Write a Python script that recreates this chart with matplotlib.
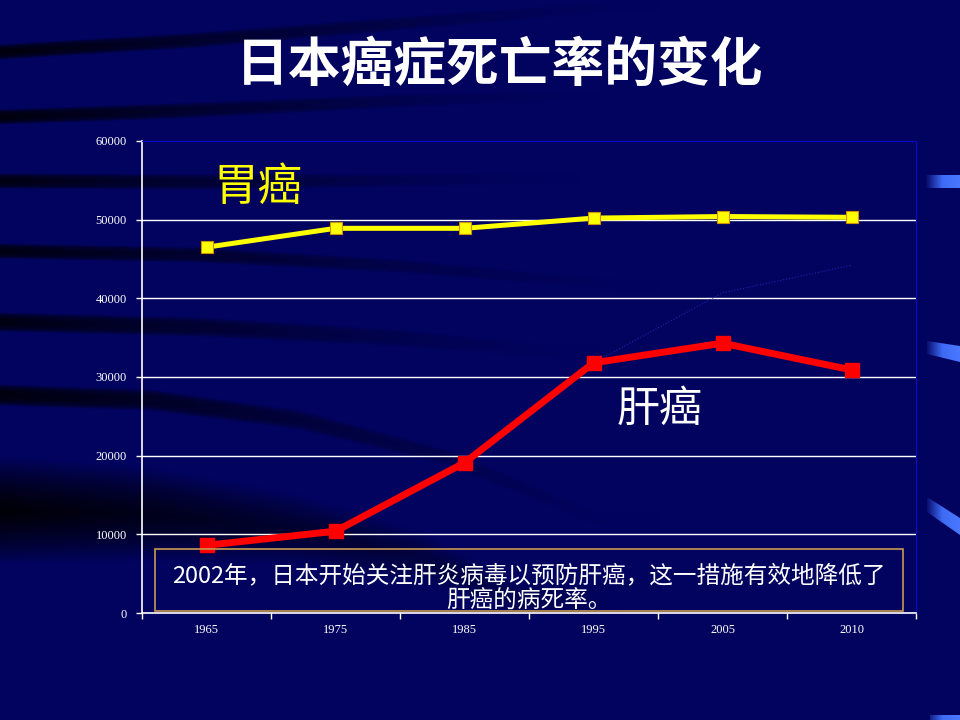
import matplotlib
matplotlib.use('Agg')
import matplotlib.pyplot as plt
import numpy as np
from matplotlib.patches import Rectangle, Polygon
from matplotlib.colors import LinearSegmentedColormap, to_rgb

plt.rcParams['font.family'] = ['Noto Sans CJK SC', 'DejaVu Sans']

# data
years = ['1965', '1975', '1985', '1995', '2005', '2010']
stomach = [46500, 48900, 48900, 50200, 50400, 50300]
liver = [8600, 10400, 19100, 31800, 34300, 30900]
liver_trend = [8600, 10400, 19100, 31800, 40700, 44200]
yticks = [0, 10000, 20000, 30000, 40000, 50000, 60000]

title = '日本癌症死亡率的变化'
note1 = '2002年，日本开始关注肝炎病毒以预防肝癌，这一措施有效地降低了'
note2 = '肝癌的病死率。'

navy = '#02035F'

fig = plt.figure(figsize=(9.6, 7.2), dpi=100)
fig.patch.set_facecolor(navy)

# background: navy slide with dark swooshes, built as an image (pixel coords, y down)
bg = fig.add_axes([0, 0, 1, 1], zorder=-10)
bg.set_xlim(0, 960)
bg.set_ylim(720, 0)
bg.axis('off')

W, H = 960, 720
xx = np.arange(W) + 0.5
yy = (np.arange(H) + 0.5)[:, None]
dark = np.zeros((H, W))


def band(xs, ys, hws, a0, end, power=1.3, soft=3.0):
	yc = np.interp(xx, xs, ys)[None, :]
	hw = np.interp(xx, xs, hws)[None, :]
	prof = np.clip(1 - (np.abs(yy - yc) / hw) ** soft, 0, 1)
	fade = a0 * np.clip(1 - xx / end, 0, 1) ** power
	return prof * fade[None, :]


bands = [
	([0, 200, 420, 620], [52, 40, 22, 6], [8, 8, 7, 6], 0.85, 660),
	([0, 200, 420, 560], [117, 110, 100, 96], [8, 8, 7, 6], 0.85, 600),
	([0, 200, 420, 560], [181, 182, 180, 178], [8, 8, 7, 6], 0.8, 580),
	([0, 200, 400, 620], [251, 255, 266, 285], [8, 8, 7, 6], 0.8, 660),
	([0, 200, 400, 560], [322, 327, 338, 352], [10, 10, 9, 7], 0.8, 600),
	([0, 150, 300, 450, 600], [395, 400, 420, 458, 520], [11, 11, 10, 8, 7], 0.85, 660),
]
for b in bands:
	dark = np.maximum(dark, band(*b))
dark = np.maximum(dark, band([0, 150, 300, 420, 520], [510, 514, 530, 556, 600],
	[55, 48, 36, 26, 16], 0.92, 620, power=0.9, soft=1.4))

base = np.array(to_rgb(navy))
img = base[None, None, :] * (1 - dark[:, :, None])
bg.imshow(img, extent=(0, W, H, 0), aspect='auto', interpolation='bilinear')

# blue accents on the right edge
accent = LinearSegmentedColormap.from_list('b', [navy, '#3D6BF5', '#4A78FF'])
for poly in [[(925, 175), (960, 175), (960, 188), (925, 188)],
	[(927, 341), (960, 346), (960, 362), (927, 354)],
	[(927, 497), (960, 518), (960, 535), (927, 512)],
	[(930, 715), (960, 715), (960, 720), (930, 720)]]:
	p = Polygon(poly, closed=True, facecolor='none', edgecolor='none')
	bg.add_patch(p)
	im = bg.imshow(np.linspace(0, 1, 64).reshape(1, -1), extent=(925, 960, 720, 0),
		aspect='auto', cmap=accent)
	im.set_clip_path(p)
bg.set_xlim(0, 960)
bg.set_ylim(720, 0)

# chart
ax = fig.add_axes([142 / 960, 1 - 613 / 720, (916 - 142) / 960, (613 - 141) / 720])
ax.patch.set_alpha(0)
x = np.arange(len(years))

ax.plot(x, liver_trend, color='#2020B0', lw=0.8, ls=':', zorder=2)
ax.plot(x, stomach, color='#FFFF00', lw=3.6, marker='s', ms=9,
	mfc='#FFFF00', mec='#D09000', mew=0.8, zorder=4)
ax.plot(x, liver, color='#FF0000', lw=5, marker='s', ms=9.5,
	mfc='#FF0000', mec='#FF0000', zorder=4)

ax.set_xlim(-0.5, len(years) - 0.5)
ax.set_ylim(0, 60000)
ax.set_yticks(yticks)
ax.set_yticklabels([str(v) for v in yticks], family='Liberation Serif', fontsize=9, color='white')
for v in yticks[1:-1]:
	ax.axhline(v, color='white', lw=1, zorder=1)

ax.set_xticks(np.arange(-0.5, len(years)), labels=[''] * (len(years) + 1))
ax.set_xticks(x, minor=True)
ax.set_xticklabels(years, minor=True, family='Liberation Serif', fontsize=9, color='white')
ax.tick_params(axis='x', which='minor', length=0, pad=8)
ax.tick_params(axis='x', which='major', length=4, color='white', width=1)
ax.tick_params(axis='y', length=4, color='white', width=1, pad=7)

ax.spines['left'].set_color('white')
ax.spines['bottom'].set_color('white')
ax.spines['left'].set_linewidth(1.2)
ax.spines['bottom'].set_linewidth(1.2)
ax.spines['top'].set_color('#0A0ACC')
ax.spines['right'].set_color('#0A0ACC')
ax.spines['top'].set_linewidth(0.8)
ax.spines['right'].set_linewidth(0.8)

# texts
fig.text(500 / 960, 1 - 65 / 720, title, color='white', fontsize=38, fontweight='bold',
	ha='center', va='center')
fig.text(258 / 960, 1 - 187 / 720, '胃癌', color='#FFFF00', fontsize=32, ha='center', va='center')
fig.text(660 / 960, 1 - 410 / 720, '肝癌', color='white', fontsize=31, ha='center', va='center')

box_edge = Rectangle((155 / 960, 1 - 611 / 720), (903 - 155) / 960, (611 - 549) / 720,
	transform=fig.transFigure, facecolor='none', edgecolor='#C89A50', lw=1.2, zorder=6)
fig.patches.append(box_edge)
fig.text(529 / 960, 1 - 576 / 720, note1, color='white', fontsize=17, ha='center', va='center', zorder=7)
fig.text(529 / 960, 1 - 600 / 720, note2, color='white', fontsize=17, ha='center', va='center', zorder=7)

fig.savefig('out.png', dpi=100, facecolor=fig.get_facecolor())
